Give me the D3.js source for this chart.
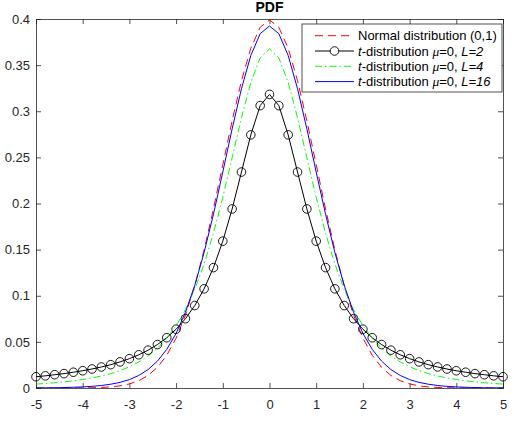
<!DOCTYPE html>
<html>
<head>
<meta charset="utf-8">
<script src="https://cdn.jsdelivr.net/npm/d3@7"></script>
<style>
  html, body { margin: 0; padding: 0; background: #fff; }
  svg { display: block; font-family: "Liberation Sans", Arial, Helvetica, sans-serif; }
</style>
</head>
<body>
<div id="chart"></div>
<script>
/* sample points, -5:0.2:5 */
const xs = [-5, -4.8, -4.6, -4.4, -4.2, -4, -3.8, -3.6, -3.4, -3.2, -3, -2.8, -2.6, -2.4, -2.2, -2,
  -1.8, -1.6, -1.4, -1.2, -1, -0.8, -0.6, -0.4, -0.2, 0, 0.2, 0.4, 0.6, 0.8, 1, 1.2, 1.4, 1.6, 1.8,
  2, 2.2, 2.4, 2.6, 2.8, 3, 3.2, 3.4, 3.6, 3.8, 4, 4.2, 4.4, 4.6, 4.8, 5];

const normalY = [0.0000, 0.0000, 0.0000, 0.0000, 0.0001, 0.0001, 0.0003, 0.0006, 0.0012, 0.0024, 0.0044,
  0.0079, 0.0136, 0.0224, 0.0355, 0.0540, 0.0790, 0.1109, 0.1497, 0.1942, 0.2420, 0.2897, 0.3332, 0.3683,
  0.3910, 0.3989, 0.3910, 0.3683, 0.3332, 0.2897, 0.2420, 0.1942, 0.1497, 0.1109, 0.0790, 0.0540, 0.0355,
  0.0224, 0.0136, 0.0079, 0.0044, 0.0024, 0.0012, 0.0006, 0.0003, 0.0001, 0.0001, 0.0000, 0.0000, 0.0000, 0.0000];

const tL2 = [0.0122, 0.0132, 0.0144, 0.0156, 0.0171, 0.0187, 0.0206, 0.0228, 0.0253, 0.0283, 0.0318,
  0.0360, 0.0410, 0.0471, 0.0545, 0.0637, 0.0751, 0.0894, 0.1075, 0.1305, 0.1592, 0.1941, 0.2341, 0.2744,
  0.3061, 0.3183, 0.3061, 0.2744, 0.2341, 0.1941, 0.1592, 0.1305, 0.1075, 0.0894, 0.0751, 0.0637, 0.0545,
  0.0471, 0.0410, 0.0360, 0.0318, 0.0283, 0.0253, 0.0228, 0.0206, 0.0187, 0.0171, 0.0156, 0.0144, 0.0132, 0.0122];

const tL4 = [0.0042, 0.0049, 0.0057, 0.0066, 0.0078, 0.0092, 0.0109, 0.0130, 0.0156, 0.0189, 0.0230,
  0.0282, 0.0347, 0.0431, 0.0538, 0.0675, 0.0850, 0.1070, 0.1345, 0.1678, 0.2067, 0.2497, 0.2930, 0.3313,
  0.3579, 0.3676, 0.3579, 0.3313, 0.2930, 0.2497, 0.2067, 0.1678, 0.1345, 0.1070, 0.0850, 0.0675, 0.0538,
  0.0431, 0.0347, 0.0282, 0.0230, 0.0189, 0.0156, 0.0130, 0.0109, 0.0092, 0.0078, 0.0066, 0.0057, 0.0049, 0.0042];

const tL16 = [0.0002, 0.0002, 0.0003, 0.0005, 0.0008, 0.0012, 0.0018, 0.0027, 0.0041, 0.0061, 0.0091,
  0.0136, 0.0200, 0.0291, 0.0419, 0.0592, 0.0821, 0.1112, 0.1469, 0.1884, 0.2341, 0.2809, 0.3245, 0.3604,
  0.3841, 0.3924, 0.3841, 0.3604, 0.3245, 0.2809, 0.2341, 0.1884, 0.1469, 0.1112, 0.0821, 0.0592, 0.0419,
  0.0291, 0.0200, 0.0136, 0.0091, 0.0061, 0.0041, 0.0027, 0.0018, 0.0012, 0.0008, 0.0005, 0.0003, 0.0002, 0.0002];

const xTicks = [-5, -4, -3, -2, -1, 0, 1, 2, 3, 4, 5];
const yTicks = [0, 0.05, 0.1, 0.15, 0.2, 0.25, 0.3, 0.35, 0.4];

const W = 514, H = 426;
const margin = { top: 19, right: 11, bottom: 38, left: 36 };
const w = W - margin.left - margin.right;
const h = H - margin.top - margin.bottom;

const svg = d3.select("#chart").append("svg").attr("width", W).attr("height", H);
const g = svg.append("g").attr("transform", `translate(${margin.left},${margin.top})`);

const x = d3.scaleLinear().domain([-5, 5]).range([0, w]);
const y = d3.scaleLinear().domain([0, 0.4]).range([h, 0]);

/* title */
svg.append("text").attr("x", margin.left + w / 2).attr("y", 12).attr("text-anchor", "middle")
  .style("font-size", "14px").style("font-weight", "bold").style("fill", "#000").text("PDF");

/* axes: ticks inward, box on */
const tk = 5;
const axB = g.append("g").attr("transform", `translate(0,${h})`)
  .call(d3.axisBottom(x).tickValues(xTicks).tickSize(-tk).tickPadding(12).tickFormat(d => String(d)));
const axT = g.append("g")
  .call(d3.axisTop(x).tickValues(xTicks).tickSize(-tk).tickFormat(""));
const axL = g.append("g")
  .call(d3.axisLeft(y).tickValues(yTicks).tickSize(-tk).tickPadding(6).tickFormat(d => String(d)));
const axR = g.append("g").attr("transform", `translate(${w},0)`)
  .call(d3.axisRight(y).tickValues(yTicks).tickSize(-tk).tickFormat(""));
[axB, axT, axL, axR].forEach(a => {
  a.select(".domain").attr("stroke", "#262626").attr("stroke-width", 0.8);
  a.selectAll(".tick line").attr("stroke", "#262626").attr("stroke-width", 0.8);
  a.selectAll("text").style("font-size", "13px").style("fill", "#262626")
    .style("font-family", "'Liberation Sans', Arial, sans-serif");
});
axB.selectAll("text").attr("dy", "0.71em");

const pts = arr => arr.map((v, i) => [xs[i], v]);
const line = d3.line().x(d => x(d[0])).y(d => y(d[1]));

g.append("clipPath").attr("id", "clip").append("rect").attr("width", w).attr("height", h);
const plot = g.append("g").attr("clip-path", "url(#clip)");

const series = [
  { data: normalY, color: "#ff0000", dash: "8,5" },
  { data: tL2, color: "#000000", dash: null, marker: true },
  { data: tL4, color: "#00ff00", dash: "7,3,1.5,3" },
  { data: tL16, color: "#0000ff", dash: null }
];

series.forEach(s => {
  plot.append("path").datum(pts(s.data)).attr("d", line)
    .attr("fill", "none").attr("stroke", s.color).attr("stroke-width", 1)
    .attr("stroke-dasharray", s.dash);
});

/* markers for L=2 */
g.append("g").selectAll("circle").data(pts(tL2)).enter().append("circle")
  .attr("cx", d => x(d[0])).attr("cy", d => y(d[1])).attr("r", 4.3)
  .attr("fill", "none").attr("stroke", "#000").attr("stroke-width", 0.9);

/* legend */
const lx = 302 - margin.left, ly = 24 - margin.top, lw = 200, lh = 68;
const leg = g.append("g").attr("transform", `translate(${lx},${ly})`);
leg.append("rect").attr("width", lw).attr("height", lh).attr("fill", "#fff")
  .attr("stroke", "#262626").attr("stroke-width", 0.8);

const legRows = [
  { t: null, rest: "Normal distribution (0,1)", L: null },
  { t: "t", rest: "-distribution ", L: "L=2" },
  { t: "t", rest: "-distribution ", L: "L=4" },
  { t: "t", rest: "-distribution ", L: "L=16" }
];
legRows.forEach((r, i) => {
  const s = series[i];
  const cy = 11.7 + i * 15.3;
  leg.append("line").attr("x1", 13).attr("x2", 52).attr("y1", cy).attr("y2", cy)
    .attr("stroke", s.color).attr("stroke-width", 1).attr("stroke-dasharray", s.dash);
  if (s.marker) {
    leg.append("circle").attr("cx", 32.5).attr("cy", cy).attr("r", 4.3)
      .attr("fill", "#fff").attr("stroke", "#000").attr("stroke-width", 0.9);
  }
  const tx = leg.append("text").attr("x", 56).attr("y", cy).attr("dy", "0.36em")
    .style("font-size", "13px").style("fill", "#000");
  if (r.t) {
    tx.append("tspan").style("font-style", "italic").text(r.t);
    tx.append("tspan").text(r.rest);
    tx.append("tspan").style("font-style", "italic").style("font-family", "'Liberation Serif', 'Times New Roman', serif")
      .style("font-size", "13.5px").text("\u03bc");
    tx.append("tspan").text("=0, ");
    tx.append("tspan").style("font-style", "italic").text(r.L);
  } else {
    tx.text(r.rest);
  }
});
</script>
</body>
</html>
